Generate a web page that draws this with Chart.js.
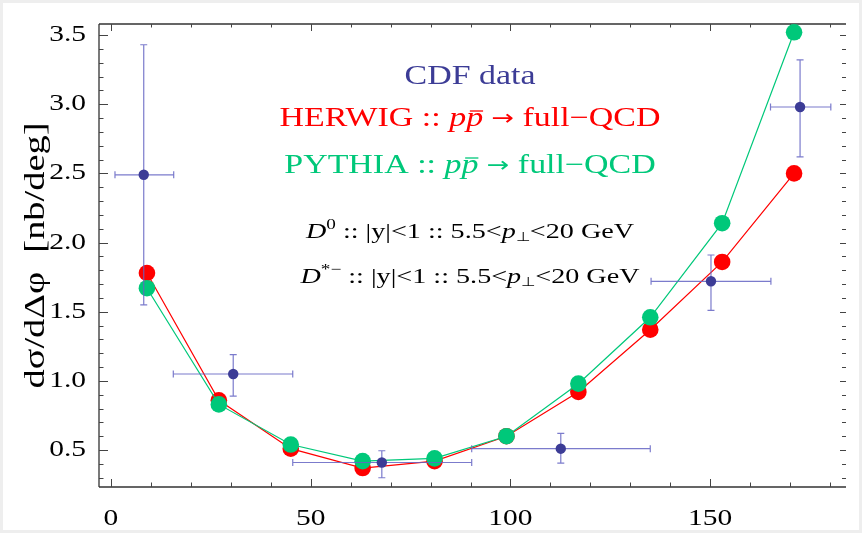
<!DOCTYPE html>
<html><head><meta charset="utf-8">
<script src="https://cdn.jsdelivr.net/npm/chart.js@4/dist/chart.umd.min.js"></script>
<style>html,body{margin:0;padding:0;background:#fff}#wrap{width:862px;height:533px}</style>
</head><body><div id="wrap"><canvas id="c" width="862" height="533"></canvas></div>
<script>
// ---- data ----
const angleBins = [9, 27, 45, 63, 81, 99, 117, 135, 153, 171];
const herwig = [1.78, 0.86, 0.51, 0.37, 0.42, 0.60, 0.92, 1.37, 1.86, 2.50];
const pythia = [1.67, 0.83, 0.54, 0.42, 0.44, 0.60, 0.98, 1.46, 2.14, 3.52];
const cdfAngle = [8.2, 30.6, 67.8, 112.6, 150.2, 172.5];
const cdfValue = [2.49, 1.05, 0.41, 0.51, 1.72, 2.98];
const cdfAngleLow = [1.0, 15.6, 45.5, 90.3, 135.2, 165.1];
const cdfAngleHigh = [15.7, 45.5, 90.3, 135.0, 165.2, 180.2];
const cdfValueLow = [1.55, 0.89, 0.30, 0.405, 1.51, 2.62];
const cdfValueHigh = [3.43, 1.19, 0.495, 0.62, 1.91, 3.32];
const xTickLabels = [0, 50, 100, 150];
const yTickLabels = [0.5, 1.0, 1.5, 2.0, 2.5, 3.0, 3.5];
const yTitle = 'dσ/dΔφ  [nb/deg]';

const SERIF = '"Liberation Serif", "Times New Roman", serif';
const SX = 1.28; // horizontal text stretch seen in the reference
const RED = '#ff0000', GREEN = '#00c87a', BLUE = '#3c3c96', BAR = 'rgba(100,100,195,0.85)';

// stretch every text along its writing direction
const _fillText = CanvasRenderingContext2D.prototype.fillText;
CanvasRenderingContext2D.prototype.fillText = function (t, x, y) {
  this.save(); this.translate(x, y); this.scale(SX, 1); _fillText.call(this, t, 0, 0); this.restore();
};

const pts = (xs, ys) => xs.map((x, i) => ({x: x, y: ys[i]}));

const bgPlugin = {
  id: 'bg',
  beforeDraw(chart) {
    const c = chart.ctx;
    c.save();
    c.fillStyle = '#ffffff'; c.fillRect(0, 0, chart.width, chart.height);
    c.strokeStyle = '#eeeeee'; c.lineWidth = 6; c.strokeRect(0, 0, chart.width, chart.height);
    c.restore();
  }
};

const framePlugin = {
  id: 'frame',
  beforeDatasetsDraw(chart) {
    const c = chart.ctx, a = chart.chartArea, xs = chart.scales.x, ys = chart.scales.y;
    c.save();
    c.strokeStyle = '#333'; c.lineWidth = 1.3;
    c.beginPath();
    c.moveTo(a.left, a.top); c.lineTo(a.right, a.top);
    c.moveTo(a.left, a.top); c.lineTo(a.left, a.bottom);
    c.moveTo(a.left, a.bottom); c.lineTo(a.right, a.bottom);
    c.stroke();
    c.strokeStyle = '#444'; c.lineWidth = 1;
    c.beginPath();
    for (let v = 0; v <= 180; v += 10) {
      const px = Math.round(xs.getPixelForValue(v)) + 0.5;
      const major = v % 50 === 0;
      const lb = major ? 8 : 4.5, lt = major ? 7 : 3.5;
      c.moveTo(px, a.bottom); c.lineTo(px, a.bottom - lb);
      c.moveTo(px, a.top); c.lineTo(px, a.top + lt);
    }
    for (let k = 3; k <= 35; k++) {
      const v = k / 10;
      const py = Math.round(ys.getPixelForValue(v)) + 0.5;
      const major = k % 5 === 0;
      const ll = major ? 9 : 4.5, lr = major ? 6 : 4;
      c.moveTo(a.left, py); c.lineTo(a.left + ll, py);
      c.moveTo(a.right, py); c.lineTo(a.right - lr, py);
    }
    c.stroke();
    c.restore();
  },
  beforeDatasetDraw(chart, args) {
    if (args.index !== 2) return;
    const c = chart.ctx, xs = chart.scales.x, ys = chart.scales.y;
    c.save();
    c.strokeStyle = BAR; c.lineWidth = 1.2;
    c.beginPath();
    const cap = 3.5;
    cdfAngle.forEach((xv, i) => {
      const px = xs.getPixelForValue(xv), py = ys.getPixelForValue(cdfValue[i]);
      const x0 = xs.getPixelForValue(cdfAngleLow[i]), x1 = xs.getPixelForValue(cdfAngleHigh[i]);
      const y0 = ys.getPixelForValue(cdfValueLow[i]), y1 = ys.getPixelForValue(cdfValueHigh[i]);
      c.moveTo(x0, py); c.lineTo(x1, py);
      c.moveTo(x0, py - cap); c.lineTo(x0, py + cap);
      c.moveTo(x1, py - cap); c.lineTo(x1, py + cap);
      c.moveTo(px, y0); c.lineTo(px, y1);
      c.moveTo(px - cap, y0); c.lineTo(px + cap, y0);
      c.moveTo(px - cap, y1); c.lineTo(px + cap, y1);
    });
    c.stroke();
    c.restore();
  }
};

function drawRich(c, segs, cx, by) {
  let total = 0;
  segs.forEach(s => { c.font = s.font; s.w = c.measureText(s.t).width * SX; total += s.w; });
  let x = cx - total / 2;
  segs.forEach(s => {
    c.font = s.font; c.fillStyle = s.color; c.textAlign = 'left'; c.textBaseline = 'alphabetic';
    c.fillText(s.t, x, by + (s.dy || 0));
    if (s.over) {
      c.save(); c.strokeStyle = s.color; c.lineWidth = 1.3;
      c.beginPath(); c.moveTo(x + s.w * 0.22, by - s.over); c.lineTo(x + s.w * 1.0, by - s.over); c.stroke();
      c.restore();
    }
    x += s.w;
  });
}

const textPlugin = {
  id: 'texts',
  afterDraw(chart) {
    const c = chart.ctx;
    c.save();
    const R = '26.5px ' + SERIF, I = 'italic 26.5px ' + SERIF, A = '21px "DejaVu Sans", sans-serif';
    const cx = 470;
    drawRich(c, [{t: 'CDF data', font: R, color: BLUE}], cx, 84);
    drawRich(c, [
      {t: 'HERWIG :: ', font: R, color: RED},
      {t: 'p', font: I, color: RED},
      {t: 'p', font: I, color: RED, over: 15},
      {t: ' ', font: R, color: RED},
      {t: '→', font: A, color: RED, dy: -1},
      {t: ' full−QCD', font: R, color: RED}
    ], cx, 126);
    drawRich(c, [
      {t: 'PYTHIA :: ', font: R, color: GREEN},
      {t: 'p', font: I, color: GREEN},
      {t: 'p', font: I, color: GREEN, over: 15},
      {t: ' ', font: R, color: GREEN},
      {t: '→', font: A, color: GREEN, dy: -1},
      {t: ' full−QCD', font: R, color: GREEN}
    ], cx, 173);
    const r = '22px ' + SERIF, it = 'italic 22px ' + SERIF, sm = '15px ' + SERIF, sb = '13px ' + SERIF;
    drawRich(c, [
      {t: 'D', font: it, color: '#000'},
      {t: '0', font: sm, color: '#000', dy: -9},
      {t: ' :: |y|<1 :: 5.5<', font: r, color: '#000'},
      {t: 'p', font: it, color: '#000'},
      {t: '⊥', font: sb, color: '#000', dy: 3},
      {t: '<20 GeV', font: r, color: '#000'}
    ], cx, 238);
    drawRich(c, [
      {t: 'D', font: it, color: '#000'},
      {t: '*−', font: sm, color: '#000', dy: -9},
      {t: ' :: |y|<1 :: 5.5<', font: r, color: '#000'},
      {t: 'p', font: it, color: '#000'},
      {t: '⊥', font: sb, color: '#000', dy: 3},
      {t: '<20 GeV', font: r, color: '#000'}
    ], cx, 283);
    c.restore();
  }
};

new Chart(document.getElementById('c'), {
  type: 'scatter',
  data: {
    datasets: [
      {label: 'HERWIG', data: pts(angleBins, herwig), showLine: true, order: 3, clip: false,
       borderColor: RED, borderWidth: 1.2, backgroundColor: RED, pointBackgroundColor: RED,
       pointBorderWidth: 0, pointRadius: 8.3, pointHoverRadius: 8.3},
      {label: 'PYTHIA', data: pts(angleBins, pythia), showLine: true, order: 2, clip: false,
       borderColor: GREEN, borderWidth: 1.2, backgroundColor: GREEN, pointBackgroundColor: GREEN,
       pointBorderWidth: 0, pointRadius: 8.3, pointHoverRadius: 8.3},
      {label: 'CDF data', data: pts(cdfAngle, cdfValue), showLine: false, order: 1, clip: false,
       backgroundColor: BLUE, pointBackgroundColor: BLUE, borderColor: BLUE,
       pointBorderWidth: 0, pointRadius: 5.2, pointHoverRadius: 5.2}
    ]
  },
  options: {
    responsive: false, animation: false, devicePixelRatio: 1,
    layout: {padding: {top: 24, right: 16, left: 0, bottom: 0}},
    plugins: {legend: {display: false}, tooltip: {enabled: false}},
    scales: {
      x: {
        type: 'linear', min: -3, max: 184,
        afterBuildTicks: s => { s.ticks = xTickLabels.map(v => ({value: v})); },
        afterFit: s => { s.height = 46; },
        grid: {display: false}, border: {display: false},
        ticks: {color: '#000', font: {family: SERIF, size: 23}, padding: 10, maxRotation: 0, autoSkip: false}
      },
      y: {
        type: 'linear', min: 0.233, max: 3.58,
        afterBuildTicks: s => { s.ticks = yTickLabels.map(v => ({value: v})); },
        afterFit: s => { s.width = 99; },
        grid: {display: false}, border: {display: false},
        ticks: {color: '#000', font: {family: SERIF, size: 23}, padding: 5, autoSkip: false,
                callback: v => Number(v).toFixed(1)},
        title: {display: true, text: yTitle, color: '#000', font: {family: SERIF, size: 30},
                padding: {top: 18, bottom: 0}}
      }
    }
  },
  plugins: [bgPlugin, framePlugin, textPlugin]
});
</script>
</body></html>
